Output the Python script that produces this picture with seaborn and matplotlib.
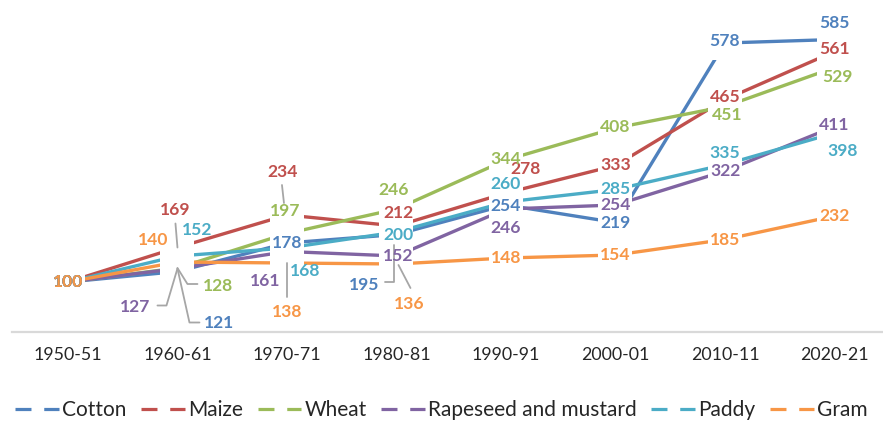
import numpy as np
import pandas as pd
import matplotlib.pyplot as plt
import matplotlib.transforms as mtransforms
from matplotlib.lines import Line2D
import seaborn as sns

sns.set_style("white")
plt.rcParams['font.family'] = ['Lato', 'DejaVu Sans']

# --- Data (index, 1950-51 = 100) ---
periods = ['1950-51', '1960-61', '1970-71', '1980-81', '1990-91', '2000-01', '2010-11', '2020-21']
crops = ['Cotton', 'Maize', 'Wheat', 'Rapeseed and mustard', 'Paddy', 'Gram']
cotton = [100, 121, 178, 195, 254, 219, 578, 585]
maize = [100, 169, 234, 212, 278, 333, 465, 561]
wheat = [100, 128, 197, 246, 344, 408, 451, 529]
rapeseed = [100, 127, 161, 152, 246, 254, 322, 411]
paddy = [100, 152, 168, 200, 260, 285, 335, 398]
gram = [100, 140, 138, 136, 148, 154, 185, 232]

colors = {
    'Cotton': '#4F81BD',
    'Maize': '#C0504D',
    'Wheat': '#9BBB59',
    'Rapeseed and mustard': '#8064A2',
    'Paddy': '#4BACC6',
    'Gram': '#F79646',
}

df = pd.DataFrame({
    'Period': periods * len(crops),
    'Crop': np.repeat(crops, len(periods)),
    'Index': cotton + maize + wheat + rapeseed + paddy + gram,
})

# label offsets from each point, in pixels (x right, y up)
label_offsets = {
    'Cotton': [(0, 0), (42, -51), (0, 0), (-32, -50), (0, -1), (0, 0), (0, 2), (0, 16)],
    'Maize': [(0, 0), (-2, 38), (-4, 43), (2, 13), (20, 24), (0, 1), (0, 2), (0, 2)],
    'Wheat': [(0, 0), (41, -18), (-2, 23), (-3, 19), (0, 1), (0, 1), (2, -8), (3, -10)],
    'Rapeseed and mustard': [(0, 0), (-42, -38), (-22, -29), (2, 0), (0, -19), (0, 0), (0, 0), (0, 1)],
    'Paddy': [(0, 0), (20, 26), (18, -23), (2, -3), (0, 18), (0, 1), (0, 11), (8, -18)],
    'Gram': [(0, 0), (-24, 22), (0, -49), (13, -40), (0, 0), (0, 0), (0, 0), (0, 0)],
}

# leader lines (pixel offsets from the point)
leaders = {
    ('Cotton', 1): [(0, 3), (12, -51), (22, -51)],
    ('Wheat', 1): [(0, 0), (10, -16), (20, -16)],
    ('Rapeseed and mustard', 1): [(0, 0), (-11, -37), (-20, -37)],
    ('Maize', 1): [(0, 0), (-2, 24)],
    ('Maize', 2): [(-3, 12), (-5, 30)],
    ('Gram', 2): [(0, 0), (0, -34)],
    ('Cotton', 3): [(-2, -11), (-2, -48), (-11, -48)],
    ('Gram', 3): [(2, -1), (14, -24)],
}

fig = plt.figure(figsize=(8.83, 4.23), dpi=100)
ax = fig.add_axes([12 / 883, 91 / 423, 871 / 883, 325 / 423])

sns.lineplot(data=df, x='Period', y='Index', hue='Crop', palette=colors,
             linewidth=2.4, sort=False, legend=False, ax=ax, zorder=2)
# white square "markers" that open the lines around each point
sns.scatterplot(data=df, x='Period', y='Index', marker='s', color='white',
                s=630, linewidth=0, legend=False, ax=ax, zorder=3)

ax.set_xlim(-0.511, 7.443)
ax.set_ylim(0, 650)

# leader lines
for (crop, i), pts in leaders.items():
    val = df[(df['Crop'] == crop) & (df['Period'] == periods[i])]['Index'].iloc[0]
    px, py = ax.transData.transform((i, val))
    xs = [p[0] for p in pts]
    ys = [p[1] for p in pts]
    ax.plot(xs, ys, color='#A6A6A6', lw=1.3, zorder=4,
            transform=mtransforms.Affine2D().translate(px, py), clip_on=False)

# data labels
for crop in crops:
    sub = df[df['Crop'] == crop]
    for i, (period, val) in enumerate(zip(sub['Period'], sub['Index'])):
        dx, dy = label_offsets[crop][i]
        ax.annotate(str(val), xy=(period, val), xytext=(dx, dy), textcoords='offset pixels',
                    ha='center', va='center', fontsize=12.6, fontweight='bold',
                    color=colors[crop], zorder=5)

ax.set_xlim(-0.511, 7.443)
ax.set_ylim(0, 650)

for s in ['top', 'right', 'left']:
    ax.spines[s].set_visible(False)
ax.spines['bottom'].set_color('#D9D9D9')
ax.spines['bottom'].set_linewidth(1.6)
ax.set_yticks([])
ax.tick_params(axis='x', length=0, pad=11, labelsize=12.8, colors='#262626')
ax.set_xlabel('')
ax.set_ylabel('')

handles = [Line2D([], [], color=colors[c], lw=2.3, linestyle=(0, (5, 4))) for c in crops]
fig.legend(handles, crops, loc='center', bbox_to_anchor=(0.5, 0.031), ncol=6,
           frameon=False, fontsize=15, handlelength=2.1, handletextpad=0.15,
           columnspacing=0.7, labelcolor='#262626')

plt.savefig('out.png', dpi=100)
